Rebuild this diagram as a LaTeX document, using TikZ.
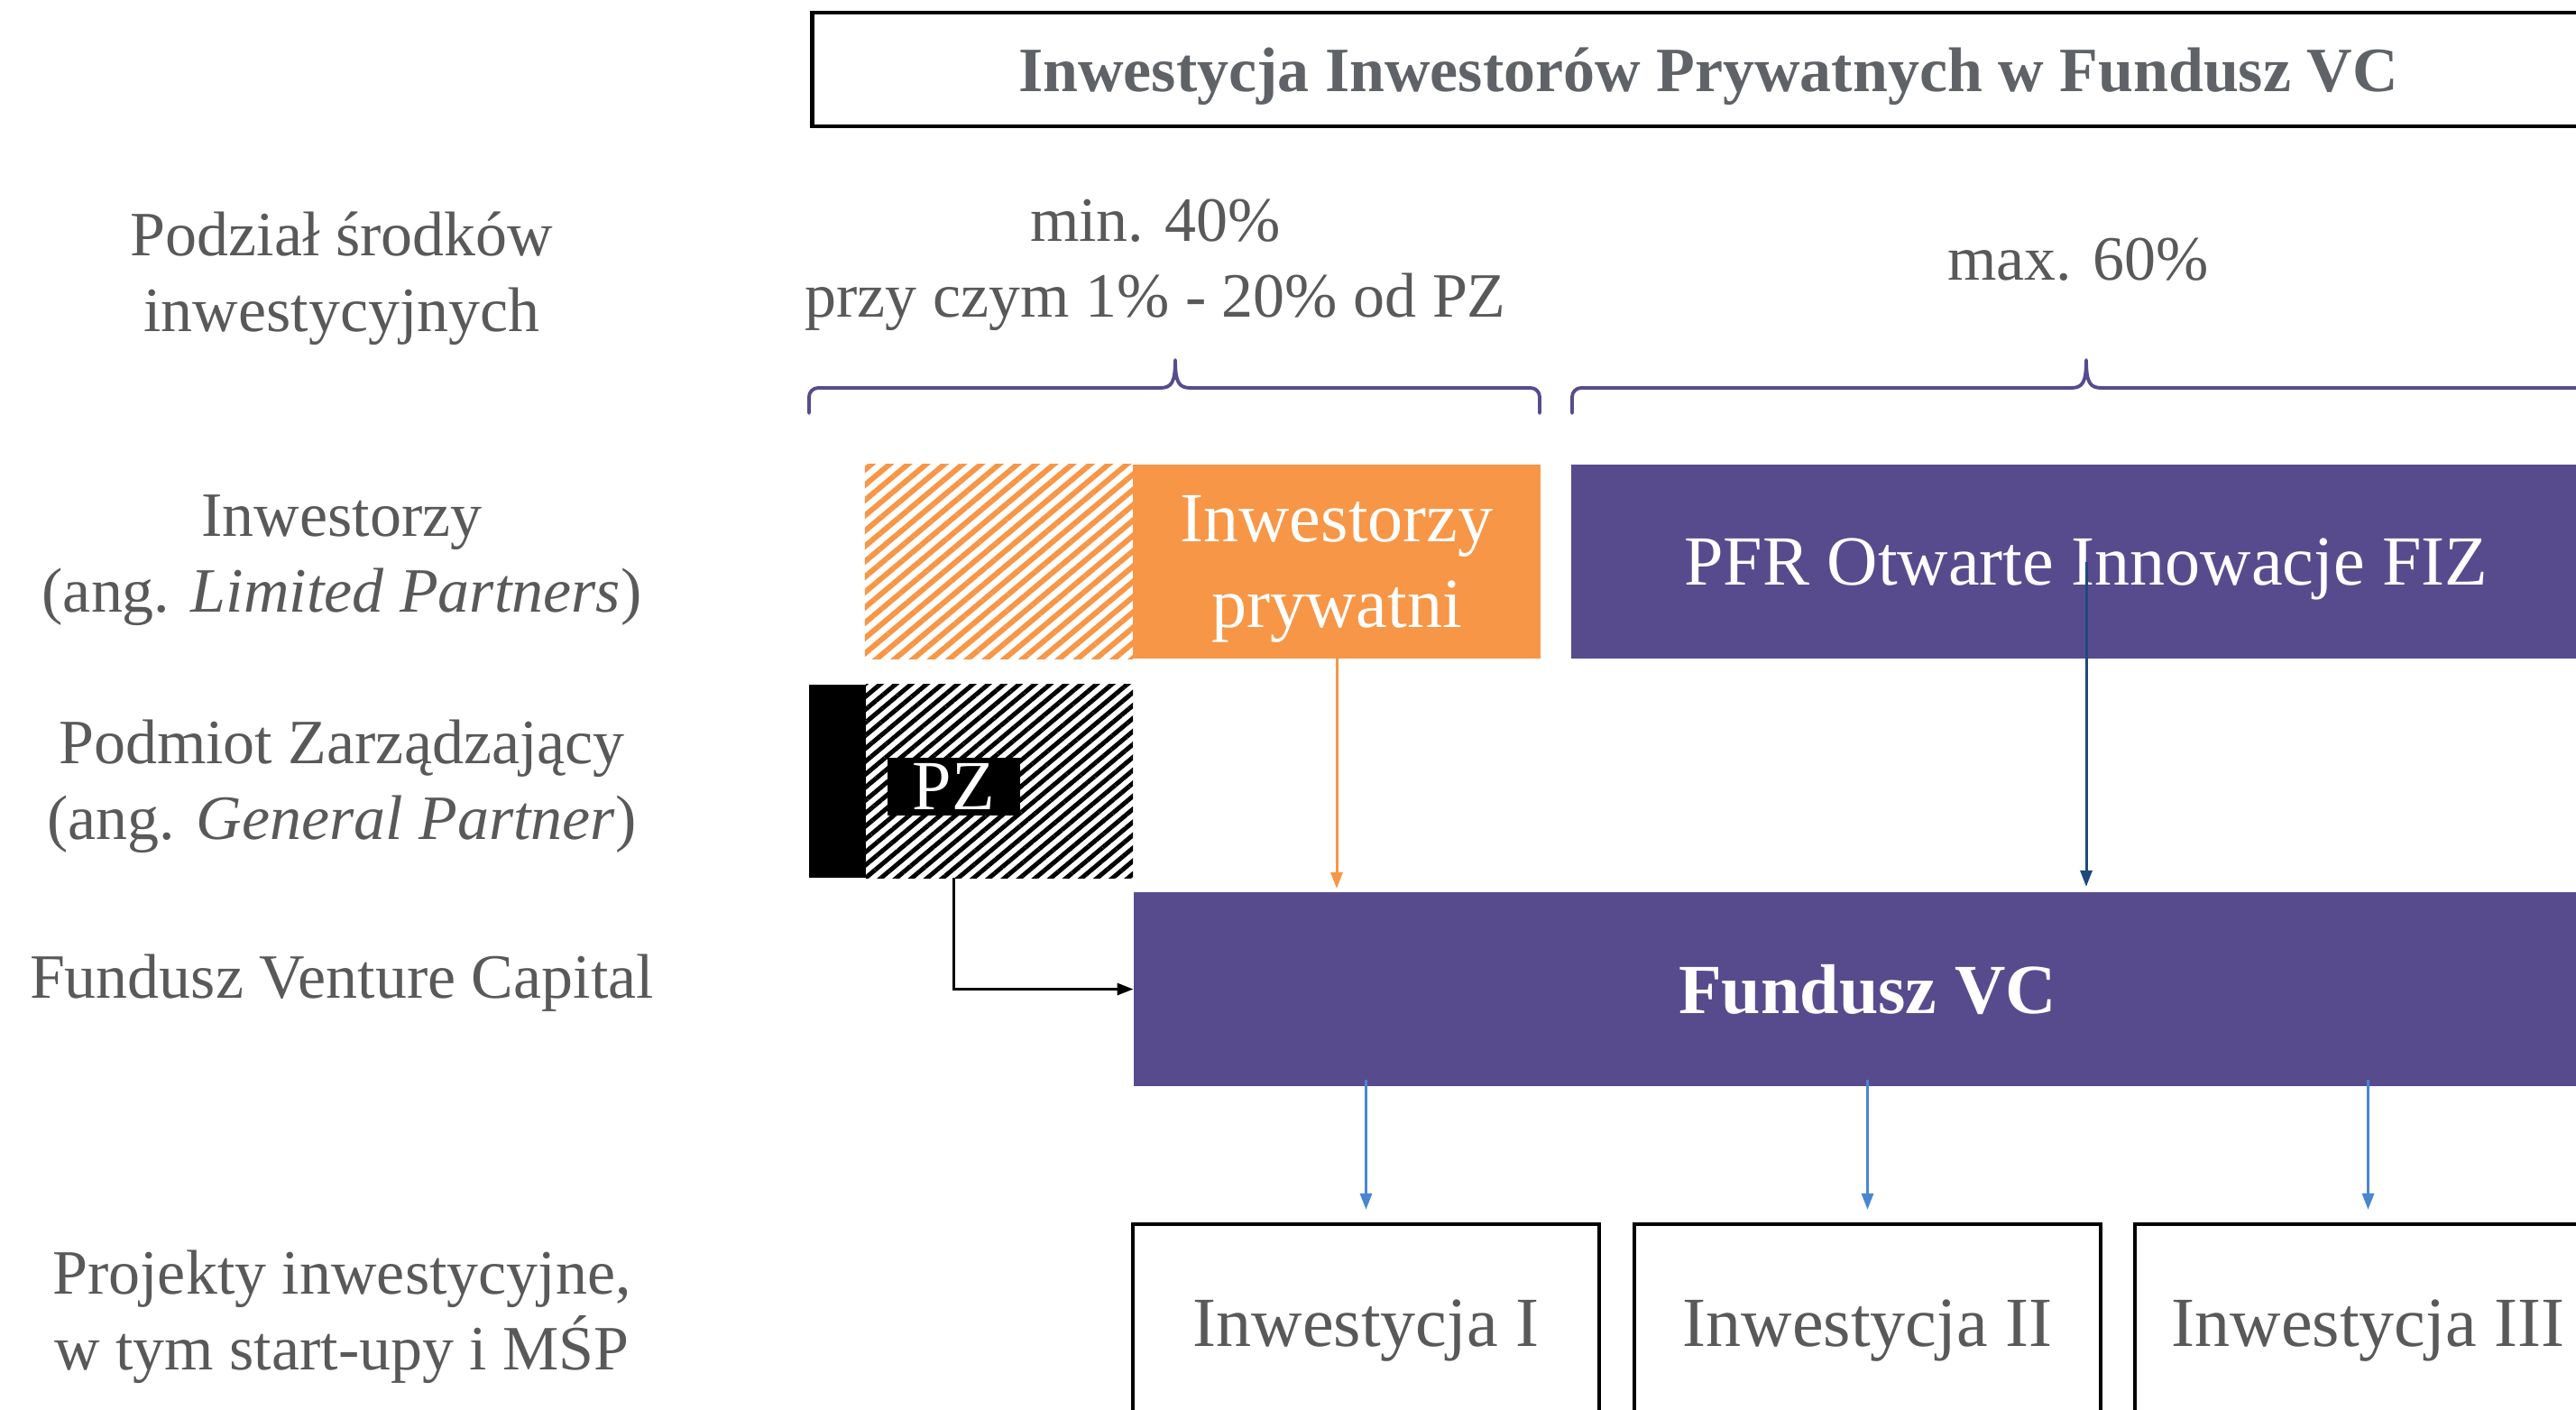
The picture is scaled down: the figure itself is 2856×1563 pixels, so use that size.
\documentclass[tikz,border=0pt]{standalone}
\usepackage{fontspec}
\setmainfont{Liberation Serif}
\usetikzlibrary{patterns.meta,arrows.meta,calc}
\definecolor{txtgray}{RGB}{89,89,89}
\definecolor{titlegray}{RGB}{95,99,104}
\definecolor{orangeF}{RGB}{247,150,70}
\definecolor{purpleF}{RGB}{88,75,141}
\definecolor{blueA}{RGB}{74,134,208}
\definecolor{navyA}{RGB}{31,73,125}
\begin{document}
\begin{tikzpicture}[x=0.01cm,y=-0.01cm,
  lbl/.style={font=\fontsize{19.9}{23.9}\selectfont, text=txtgray, align=center, inner sep=0pt},
  bigtxt/.style={font=\fontsize{22.2}{27}\selectfont},
  solidbox/.style={rectangle, inner sep=0pt, outer sep=0pt, minimum height=2.15cm, text=white, align=center, bigtxt},
  invbox/.style={rectangle, draw=black, line width=1pt, inner sep=0pt, outer sep=0pt, minimum width=5.17cm, minimum height=2.2cm, text=txtgray, bigtxt, text depth=0pt},
  bracepath/.style={draw=purpleF, line width=1.1pt, line cap=round, line join=round},
  tipstyle/.style={-{Triangle[length=0.18cm,width=0.13cm]}},
]
\useasboundingbox (0,0) rectangle (2856,1563);
\clip (0,0) rectangle (2856,1563);

% title
\node[rectangle, draw=black, line width=1.3pt, minimum width=19.86cm, minimum height=1.26cm, inner sep=0pt,
      font=\fontsize{19.9}{23.9}\selectfont\bfseries, text=titlegray, text depth=0pt] (title) at (1894,77)
      {Inwestycja Inwestorów Prywatnych w Fundusz VC};

% left labels
\node[lbl] (lblA) at (379,309) {Podział środków\\inwestycyjnych};
\node[lbl] (lblB) at (379,621) {Inwestorzy\\(ang. \textit{Limited Partners})};
\node[lbl] (lblC) at (379,872) {Podmiot Zarządzający\\(ang. \textit{General Partner})};
\node[lbl] (lblD) at (379,1090) {Fundusz Venture Capital};
\node[lbl] (lblE) at (379,1460) {Projekty inwestycyjne,\\w tym start-upy i MŚP};

% percentages
\node[lbl] (pct1) at (1281,294) {min. 40\%\\przy czym 1\% - 20\% od PZ};
\node[lbl] (pct2) at (2304,288) {max. 60\%};

% braces
\draw[bracepath, rounded corners=0.1cm] (897,458) -- (897,430) -- (1286,430);
\draw[bracepath] (1286,430) .. controls (1299,430) and (1303,424) .. (1303,399)
                 .. controls (1303,424) and (1307,430) .. (1320,430);
\draw[bracepath, rounded corners=0.1cm] (1320,430) -- (1707,430) -- (1707,458);
\draw[bracepath, rounded corners=0.1cm] (1743,458) -- (1743,430) -- (2296,430);
\draw[bracepath] (2296,430) .. controls (2309,430) and (2313,424) .. (2313,399)
                 .. controls (2313,424) and (2317,430) .. (2330,430);
\draw[bracepath, rounded corners=0.1cm] (2330,430) -- (2883,430) -- (2883,458);

% investors row
\node[rectangle, inner sep=0pt, outer sep=0pt, minimum width=2.97cm, minimum height=2.15cm,
      pattern={Lines[angle=40,distance=0.13cm,line width=0.06cm]}, pattern color=orangeF] (hatchO) at (1107.5,622.5) {};
\node[solidbox, fill=orangeF, minimum width=4.52cm] (priv) at (1482,622.5) {};
\node[bigtxt, text=white, align=center, inner sep=0pt] (privtxt) at (1482,631) {Inwestorzy\\prywatni};
\node[solidbox, fill=purpleF, minimum width=11.42cm, text depth=0pt] (pfr) at (2313,622.5) {PFR Otwarte Innowacje FIZ};

% PZ row
\node[rectangle, fill=black, inner sep=0pt, outer sep=0pt, minimum width=0.63cm, minimum height=2.14cm] (pzbar) at (928.5,866) {};
\node[rectangle, inner sep=0pt, outer sep=0pt, minimum width=2.96cm, minimum height=2.14cm,
      pattern={Lines[angle=40,distance=0.11cm,line width=0.05cm]}, pattern color=black] (pzh) at (1108,866) {};
\node[rectangle, fill=black, inner sep=0pt, outer sep=0pt, minimum width=1.47cm, minimum height=0.64cm,
      text=white, bigtxt, text depth=0pt] (pzlab) at (1057.5,872) {PZ};

% fund
\node[solidbox, fill=purpleF, minimum width=16.27cm, font=\fontsize{22.2}{27}\selectfont\bfseries, text depth=0pt] (fund) at (2070.5,1096.5) {Fundusz VC};

% investments
\node[invbox] (inv1) at (1514.5,1467) {Inwestycja I};
\node[invbox] (inv2) at (2070.5,1467) {Inwestycja II};
\node[invbox] (inv3) at (2625.5,1467) {Inwestycja III};

% arrows
\draw[tipstyle, draw=orangeF, line width=0.85pt, shorten >=0.04cm] (priv.south) -- (priv.south |- fund.north);
\draw[tipstyle, draw=navyA, line width=0.85pt, shorten >=0.06cm] (pfr.center) -- (pfr.center |- fund.north);
\draw[tipstyle, draw=black, line width=0.9pt] (pzlab.south |- pzh.south) -- (pzlab.south |- fund.west) -- (fund.west);
\draw[tipstyle, draw=blueA, line width=0.85pt, shorten >=0.16cm] ($(inv1.north |- fund.south)+(0,-7)$) -- (inv1.north);
\draw[tipstyle, draw=blueA, line width=0.85pt, shorten >=0.16cm] ($(inv2.north |- fund.south)+(0,-7)$) -- (inv2.north);
\draw[tipstyle, draw=blueA, line width=0.85pt, shorten >=0.16cm] ($(inv3.north |- fund.south)+(0,-7)$) -- (inv3.north);
\end{tikzpicture}
\end{document}
